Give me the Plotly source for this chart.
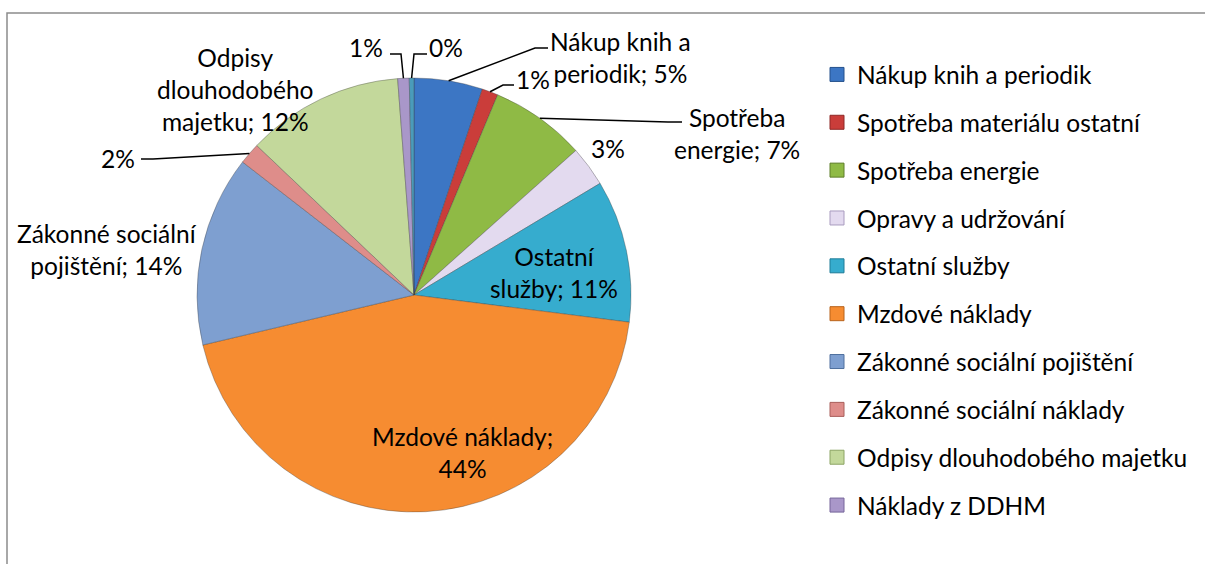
import math
import plotly.graph_objects as go

# ---------------- data ----------------
categories = [
    "Nákup knih a periodik",
    "Spotřeba materiálu ostatní",
    "Spotřeba energie",
    "Opravy a udržování",
    "Ostatní služby",
    "Mzdové náklady",
    "Zákonné sociální pojištění",
    "Zákonné sociální náklady",
    "Odpisy dlouhodobého majetku",
    "Náklady z DDHM",
    "Ostatní náklady",
]
values = [5.1, 1.2, 7.1, 3.0, 10.6, 44.3, 14.2, 1.6, 11.7, 0.85, 0.35]
legend_items = categories[:10]

# ---------------- style ----------------
colors = ["#3C76C4", "#CA3D3A", "#8FBA45", "#E3DAEF", "#36ACCE",
          "#F68C31", "#7E9FD0", "#DE8D8A", "#C3D89B", "#A997C9", "#4A9BBA"]
edge_colors = ["#24508C", "#8E2826", "#5F7F2A", "#A99BBF", "#1F7D98",
               "#B8621B", "#4F6F9E", "#A95E5B", "#8CA465", "#76659A", "#2E6F88"]

W, H = 1205, 564
CX, CY, R = 414, 295, 217
FONT = "Lato"
FS = 24.5

# label layout per slice: word-break positions (None -> percentage only),
# text centre px, leader elbow px, leader end px
label_style = {
    0: dict(breaks=[3], pos=(621, 57), elbow=(535, 48), end=(548, 48)),
    1: dict(breaks=None, pos=(533, 79), elbow=(503, 85), end=(514, 85)),
    2: dict(breaks=[1], pos=(737, 134), elbow=(668, 122), end=(682, 122)),
    3: dict(breaks=None, pos=(608, 148), elbow=None, end=None),
    4: dict(breaks=[1], pos=(554, 272), elbow=None, end=None),
    5: dict(breaks=[2], pos=(462, 452), elbow=None, end=None),
    6: dict(breaks=[2], pos=(107, 250), elbow=None, end=None),
    7: dict(breaks=None, pos=(118, 158), elbow=(153, 159), end=(141, 159)),
    8: dict(breaks=[1, 2], pos=(235, 90), elbow=None, end=None),
    9: dict(breaks=None, pos=(366, 47), elbow=(401, 54), end=(390, 54)),
    10: dict(breaks=None, pos=(446, 47), elbow=(414, 54), end=(427, 54)),
}


def px(x):
    return x / W


def py(y):
    return 1 - y / H


total = sum(values)
pcts = [round(v / total * 100) for v in values]

fig = go.Figure()
fig.add_trace(go.Pie(
    labels=categories,
    values=values,
    sort=False,
    direction="clockwise",
    rotation=0,
    marker=dict(colors=colors, line=dict(color="rgba(60,60,60,0.35)", width=1)),
    textinfo="none",
    textposition="none",
    hoverinfo="label+percent",
    showlegend=False,
    domain=dict(x=[px(CX - R), px(CX + R)], y=[py(CY + R), py(CY - R)]),
))

# legend entries (10 visible categories)
for i, name in enumerate(legend_items):
    fig.add_trace(go.Scatter(
        x=[None], y=[None], mode="markers", name=name,
        legendgroup=name,
        marker=dict(symbol="square", size=14, color=colors[i],
                    line=dict(color=edge_colors[i], width=1)),
        hoverinfo="skip",
    ))

annotations = []
shapes = []
cum = 0.0
for i, (name, v) in enumerate(zip(categories, values)):
    mid = (cum + v / 2) / total * 2 * math.pi
    cum += v
    ax_ = CX + R * math.sin(mid)
    ay_ = CY - R * math.cos(mid)
    st = label_style[i]
    if st["breaks"] is None:
        text = f"{pcts[i]}%"
    else:
        words = f"{name}; {pcts[i]}%".split(" ")
        lines, prev = [], 0
        for b in st["breaks"] + [len(words)]:
            lines.append(" ".join(words[prev:b]))
            prev = b
        text = "<br>".join(lines)
    annotations.append(dict(
        x=px(st["pos"][0]), y=py(st["pos"][1]), xref="paper", yref="paper",
        text=text, showarrow=False, xanchor="center", yanchor="middle",
        align="center", font=dict(family=FONT, size=FS, color="#000000"),
    ))
    if st["elbow"] is not None:
        ex, ey = st["elbow"]
        nx, ny = st["end"]
        shapes.append(dict(
            type="path", xref="paper", yref="paper",
            path=f"M {px(ax_)},{py(ay_)} L {px(ex)},{py(ey)} L {px(nx)},{py(ny)}",
            line=dict(color="#000000", width=1.5),
        ))

# chart frame (extends past the visible area, as in the reference)
shapes.append(dict(type="rect", xref="paper", yref="paper",
                   x0=px(7), y0=py(13), x1=px(W + 20), y1=py(H + 20),
                   line=dict(color="#8C8C8C", width=1.5), layer="below"))

fig.update_layout(
    width=W, height=H,
    margin=dict(l=0, r=0, t=0, b=0),
    paper_bgcolor="#FFFFFF", plot_bgcolor="#FFFFFF",
    xaxis=dict(visible=False), yaxis=dict(visible=False),
    showlegend=True,
    legend=dict(
        x=px(817), y=py(52), xanchor="left", yanchor="top",
        font=dict(family=FONT, size=FS, color="#000000"),
        tracegroupgap=13, traceorder="grouped",
        bgcolor="rgba(0,0,0,0)",
    ),
    annotations=annotations,
    shapes=shapes,
)

fig.write_html(
    "out.html",
    config={"displayModeBar": False},
    post_script="document.body.style.margin='0px';document.body.style.overflow='hidden';",
)
